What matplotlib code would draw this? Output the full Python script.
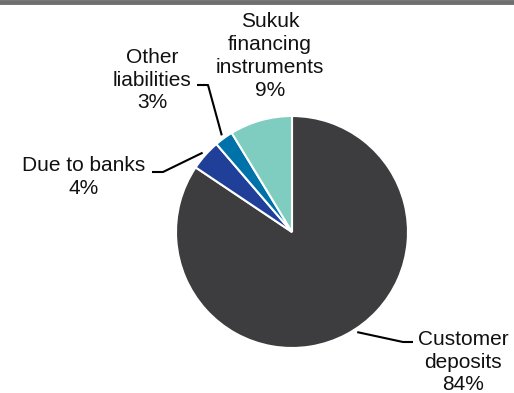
import numpy as np
import matplotlib
matplotlib.use('Agg')
import matplotlib.pyplot as plt
from matplotlib.lines import Line2D

labels = ['Customer\ndeposits\n84%', 'Due to banks\n4%', 'Other\nliabilities\n3%', 'Sukuk\nfinancing\ninstruments\n9%']
shares = [84.4, 4.3, 2.6, 8.7]
colors = ['#3d3d3f', '#1f3f98', '#0072aa', '#7ecdc0']

plt.rcParams['font.family'] = ['Liberation Sans', 'DejaVu Sans']

W, H = 514, 393
cx, cy, R = 292, 232, 116

def px(x, y):
    # pixel position -> data units (pie radius = 1)
    return (x - cx) / R, (cy - y) / R

fig = plt.figure(figsize=(W / 100, H / 100), dpi=100)
ax = fig.add_axes([0, 0, 1, 1])
wedges, _ = ax.pie(shares, colors=colors, startangle=90, counterclock=False,
                   radius=1, wedgeprops=dict(edgecolor='white', linewidth=1.5))
ax.set_xlim(-cx / R, (W - cx) / R)
ax.set_ylim(-(H - cy) / R, cy / R)
ax.set_aspect('auto')
ax.axis('off')

# label positions (pixel centre) and leader elbows
text_pos = [(463, 362), (84, 177), (152, 80), (270, 56)]
elbows = [[(403, 342), (413, 342)], [(163, 172), (152, 172)], [(208, 85), (197, 85)], None]
# nudge along the rim where the leader touches (degrees)
nudge = [5, 0, 0, 0]

for w, lab, tp, el, dn in zip(wedges, labels, text_pos, elbows, nudge):
    tx, ty = px(*tp)
    ax.text(tx, ty, lab, ha='center', va='center', fontsize=15,
            multialignment='center', linespacing=1.25, color='#111111')
    if el is None:
        continue
    mid = np.deg2rad((w.theta1 + w.theta2) / 2 + dn)
    xs = [np.cos(mid) * 1.03] + [px(*p)[0] for p in el]
    ys = [np.sin(mid) * 1.03] + [px(*p)[1] for p in el]
    ax.plot(xs, ys, color='black', linewidth=1.5, solid_capstyle='butt')

fig.add_artist(Line2D([0, 1], [1 - 2 / H, 1 - 2 / H], transform=fig.transFigure,
                      color='#6f6f6f', linewidth=3.5))

fig.savefig('out.png', dpi=100)
